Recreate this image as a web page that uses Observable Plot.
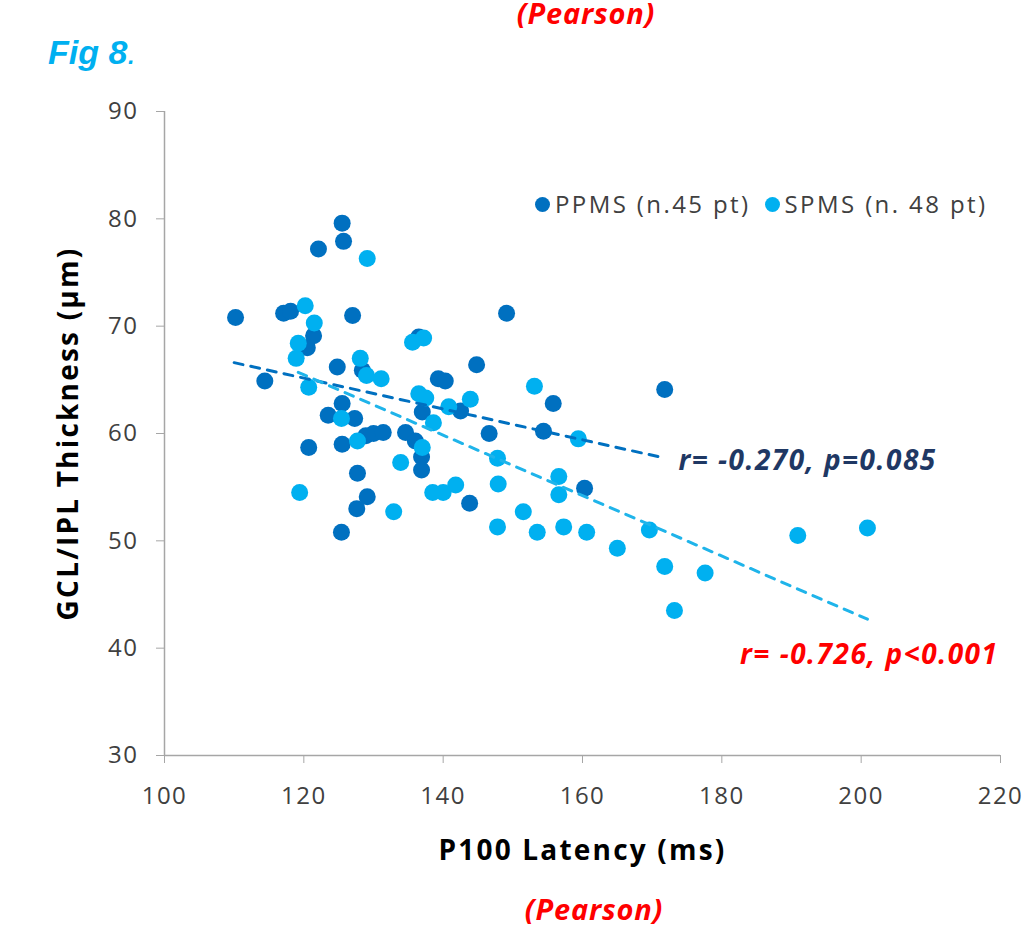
<!DOCTYPE html>
<html>
<head>
<meta charset="utf-8">
<script src="https://cdn.jsdelivr.net/npm/d3@7"></script>
<script src="https://cdn.jsdelivr.net/npm/@observablehq/plot@0.6"></script>
<style>
  html, body { margin: 0; padding: 0; background: #fff; }
  #wrap { position: relative; width: 1024px; height: 931px; overflow: hidden; font-family: "Open Sans", sans-serif; }
  #chart { position: absolute; left: 0; top: 0; }
  .pearson { position: absolute; color: #ff0000; font-weight: bold; font-style: italic; font-size: 29px; letter-spacing: 0.8px; font-family: "Open Sans", sans-serif; width: 300px; text-align: center; line-height: normal; }
  #ptop { line-height: 26px; top: 0; }
  #fig { position: absolute; left: 48px; top: 33px; color: #00b0f0; font-family: "Liberation Sans", Arial, sans-serif; font-weight: bold; font-style: italic; font-size: 34px; }
  #fig .dot { font-weight: normal; }
  #legend { position: absolute; top: 187px; left: 535px; font-size: 24px; letter-spacing: 2.4px; color: #404040; white-space: nowrap; }
  #legend span.sw { display: inline-block; width: 15px; height: 15px; border-radius: 50%; margin-right: 5px; vertical-align: 1px; }
  #legend span.item { margin-right: 14px; }
  g[aria-label="x-axis label"] text, g[aria-label="y-axis label"] text { font-size: 28px; font-weight: bold; fill: #000; letter-spacing: 2.2px; }
  g[aria-label="x-axis tick label"] text, g[aria-label="y-axis tick label"] text { letter-spacing: 1.5px; }
  g[aria-label="text"] text { letter-spacing: 1.5px; }
</style>
</head>
<body>
<div id="wrap">
  <div class="pearson" id="ptop" style="left:436px;">(Pearson)</div>
  <div id="fig">Fig 8<span class="dot">.</span></div>
  <div id="chart"></div>
  <div id="legend"></div>
  <div class="pearson" id="pbot" style="left:444px; top:889px;">(Pearson)</div>
</div>
<script>
// ---- data ----
const xTicks = [100, 120, 140, 160, 180, 200, 220];
const yTicks = [30, 40, 50, 60, 70, 80, 90];

const seriesNames = ["PPMS (n.45 pt)", "SPMS (n. 48 pt)"];
const seriesColors = ["#0070c0", "#00b0f0"];

// PPMS: P100 latency (ms), GCL/IPL thickness (µm)
const ppmsLatency = [110.2, 114.4, 117.1, 118.1, 122.1, 125.5, 125.7, 127.0, 121.4, 120.5,
  124.8, 128.4, 125.5, 123.5, 127.3, 120.7, 125.5, 128.9, 130.0, 131.4,
  134.6, 136.0, 136.9, 136.9, 127.7, 129.1, 127.6, 125.4, 137.0, 142.5,
  136.5, 144.8, 139.3, 140.3, 155.8, 146.6, 154.4, 160.3, 143.8, 149.1, 171.8];
const ppmsThickness = [70.8, 64.9, 71.2, 71.4, 77.2, 79.6, 77.9, 71.0, 69.1, 68.0,
  66.2, 65.9, 62.8, 61.7, 61.4, 58.7, 59.0, 59.8, 60.0, 60.1,
  60.1, 59.3, 57.8, 56.6, 56.3, 54.1, 53.0, 50.8, 62.0, 62.1,
  69.0, 66.4, 65.1, 64.9, 62.8, 60.0, 60.2, 54.9, 53.5, 71.2, 64.1];

// SPMS
const spmsLatency = [120.2, 121.5, 119.2, 118.9, 120.7, 128.1, 129.0, 131.1, 125.4, 127.7,
  137.0, 133.9, 119.4, 132.9, 138.6, 138.5, 140.0, 141.8, 136.5, 137.5,
  140.8, 135.6, 137.2, 153.1, 143.9, 147.8, 156.6, 129.1, 159.4, 156.6,
  147.9, 151.5, 147.8, 153.5, 157.3, 160.6, 165.0, 169.6, 171.8, 173.2,
  190.9, 200.9, 177.6];
const spmsThickness = [71.9, 70.3, 68.4, 67.0, 64.3, 67.0, 65.4, 65.1, 61.4, 59.3,
  58.7, 57.3, 54.5, 52.7, 61.0, 54.5, 54.5, 55.2, 63.7, 63.3,
  62.5, 68.5, 68.9, 64.4, 63.2, 57.7, 56.0, 76.3, 59.5, 54.3,
  55.3, 52.7, 51.3, 50.8, 51.3, 50.8, 49.3, 51.0, 47.6, 43.5,
  50.5, 51.2, 47.0];

// linear trend lines (start / end)
const ppmsTrendLatency = [110.0, 171.9];
const ppmsTrendThickness = [66.6, 57.7];
const spmsTrendLatency = [119.2, 200.9];
const spmsTrendThickness = [65.7, 42.7];

const ppmsStat = "r= -0.270, p=0.085";
const spmsStat = "r= -0.726, p<0.001";

// ---- build tables ----
const ppms = ppmsLatency.map((x, i) => ({x, y: ppmsThickness[i]}));
const spms = spmsLatency.map((x, i) => ({x, y: spmsThickness[i]}));
const ppmsTrend = ppmsTrendLatency.map((x, i) => ({x, y: ppmsTrendThickness[i]}));
const spmsTrend = spmsTrendLatency.map((x, i) => ({x, y: spmsTrendThickness[i]}));

const axisGray = "#a6a6a6";

const chart = Plot.plot({
  width: 1024,
  height: 931,
  marginLeft: 164,
  marginRight: 24,
  marginTop: 111,
  marginBottom: 176,
  x: {domain: [100, 220]},
  y: {domain: [30, 90]},
  style: {fontFamily: "'Open Sans', sans-serif", fontSize: "24px", background: "transparent", overflow: "visible"},
  marks: [
    Plot.ruleX([100], {stroke: axisGray, strokeWidth: 1.5}),
    Plot.ruleY([30], {stroke: axisGray, strokeWidth: 1.5}),
    Plot.axisX({ticks: xTicks, tickSize: 8, tickPadding: 23, stroke: axisGray, fill: "#404040",
      label: "P100 Latency (ms)", labelAnchor: "center", labelArrow: "none", labelOffset: 104}),
    Plot.axisY({ticks: yTicks, tickSize: 8, tickPadding: 18, stroke: axisGray, fill: "#404040",
      label: "GCL/IPL Thickness (µm)", labelAnchor: "center", labelArrow: "none", labelOffset: 106}),
    Plot.dot(ppms, {x: "x", y: "y", r: 8.5, fill: seriesColors[0]}),
    Plot.dot(spms, {x: "x", y: "y", r: 8.5, fill: seriesColors[1]}),
    Plot.line(ppmsTrend, {x: "x", y: "y", stroke: seriesColors[0], strokeWidth: 3, strokeDasharray: "9,8"}),
    Plot.line(spmsTrend, {x: "x", y: "y", stroke: "#1fb4ea", strokeWidth: 3, strokeDasharray: "9,8"}),
    Plot.text([ppmsTrend[1]], {x: "x", y: "y", text: () => ppmsStat, textAnchor: "start", dx: 13, dy: 3,
      fill: "#1f3864", fontWeight: "bold", fontStyle: "italic", fontSize: 28}),
    Plot.text([spmsTrend[1]], {x: "x", y: "y", text: () => spmsStat, textAnchor: "end", dx: 131, dy: 36,
      fill: "#ff0000", fontWeight: "bold", fontStyle: "italic", fontSize: 28})
  ]
});
document.getElementById("chart").appendChild(chart);

// legend
const legend = document.getElementById("legend");
seriesNames.forEach((name, i) => {
  const item = document.createElement("span");
  item.className = "item";
  const sw = document.createElement("span");
  sw.className = "sw";
  sw.style.background = seriesColors[i];
  item.appendChild(sw);
  item.appendChild(document.createTextNode(name));
  legend.appendChild(item);
});
</script>
</body>
</html>
